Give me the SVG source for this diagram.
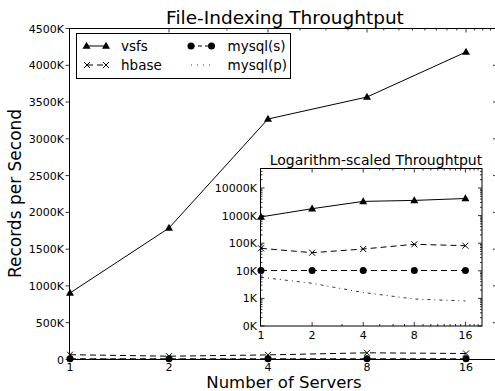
<svg xmlns="http://www.w3.org/2000/svg" width="495" height="391" viewBox="0 0 495 391">
<style>
text{font-family:"DejaVu Sans","Liberation Sans",sans-serif;fill:#000}
.tick{font-size:11px}
.ax{fill:none;stroke:#000;stroke-width:1}
.tk{fill:none;stroke:#000;stroke-width:0.8}
.l{fill:none;stroke:#000;stroke-width:1}
.dash{stroke-dasharray:6,4}
.dd{stroke-dasharray:3,4,1,4;stroke-width:0.8}
.tri{marker-start:url(#mt);marker-mid:url(#mt);marker-end:url(#mt)}
.xm{marker-start:url(#mx);marker-mid:url(#mx);marker-end:url(#mx)}
.ci{marker-start:url(#mc);marker-mid:url(#mc);marker-end:url(#mc)}
</style>
<defs>
<marker id="mt" markerUnits="userSpaceOnUse" markerWidth="10" markerHeight="10" refX="5" refY="5" overflow="visible"><path d="M5,0.8 L9,7.8 L1,7.8 Z" fill="#000"/></marker>
<marker id="mx" markerUnits="userSpaceOnUse" markerWidth="10" markerHeight="10" refX="5" refY="5" overflow="visible"><path d="M2,2 L8,8 M8,2 L2,8" stroke="#000" stroke-width="1" fill="none" stroke-dasharray="none"/></marker>
<marker id="mc" markerUnits="userSpaceOnUse" markerWidth="10" markerHeight="10" refX="5" refY="5" overflow="visible"><circle cx="5" cy="5" r="3.5" fill="#000"/></marker>
</defs>
<rect width="495" height="391" fill="#fff"/>

<g id="main-axes">
<path class="ax" d="M69.5,28.5 H497 M69.5,28 V360 M69.5,359.5 H497"/>
<path class="tk" d="M65.5,359.5h4 M65.5,322.7h4 M65.5,285.9h4 M65.5,249.2h4 M65.5,212.4h4 M65.5,175.6h4 M65.5,138.8h4 M65.5,102h4 M65.5,65.3h4 M65.5,28.5h4"/>
<path class="tk" d="M493,322.7h4 M493,285.9h4 M493,249.2h4 M493,212.4h4 M493,175.6h4 M493,138.8h4 M493,102h4 M493,65.3h4"/>
<path class="tk" d="M169,28.5v4 M268,28.5v4 M367,28.5v4 M466,28.5v4 M226.9,28.5v2 M299.9,28.5v2 M325.9,28.5v2 M347.9,28.5v2 M383.8,28.5v2 M398.9,28.5v2 M412.5,28.5v2 M424.9,28.5v2 M436.3,28.5v2 M446.9,28.5v2 M456.8,28.5v2 M474.6,28.5v2 M482.8,28.5v2 M490.5,28.5v2"/>
<path class="tk" d="M169,359.5v-4 M268,359.5v-4 M367,359.5v-4 M466,359.5v-4"/>
<g class="tick" text-anchor="end">
<text x="64" y="363.5">0</text>
<text x="64" y="326.7">500K</text>
<text x="64" y="289.9">1000K</text>
<text x="64" y="253.2">1500K</text>
<text x="64" y="216.4">2000K</text>
<text x="64" y="179.6">2500K</text>
<text x="64" y="142.8">3000K</text>
<text x="64" y="106">3500K</text>
<text x="64" y="69.3">4000K</text>
<text x="64" y="32.5">4500K</text>
</g>
<g class="tick" text-anchor="middle">
<text x="70" y="370.5">1</text>
<text x="169" y="370.5">2</text>
<text x="268" y="370.5">4</text>
<text x="367" y="370.5">8</text>
<text x="466" y="370.5">16</text>
</g>
<text x="285" y="23.5" font-size="18.5" text-anchor="middle">File-Indexing Throughtput</text>
<text x="284" y="387.5" font-size="16.5" text-anchor="middle">Number of Servers</text>
<text transform="translate(20.5,193.5) rotate(-90)" font-size="17" text-anchor="middle">Records per Second</text>
</g>

<g id="main-connectors">
<polyline class="l dd" points="70,359.1 169,359.2 268,359.3 367,359.4 466,359.4"/>
<polyline class="l dash ci" points="70,358.8 169,358.8 268,358.8 367,358.8 466,358.8"/>
<polyline class="l dash xm" points="70,354.7 169,356.2 268,354.9 367,352.8 466,353.5"/>
<polyline class="l tri" points="70,293 169,228 268,119 367,97 466,52"/>
</g>

<g id="legend">
<rect x="76.5" y="33.5" width="214" height="45" fill="#fff" stroke="#000" stroke-width="1"/>
<polyline class="l tri" points="86.5,46 106,46"/>
<polyline class="l dash xm" points="87,65 106,65"/>
<polyline class="l dash ci" points="191,46 211.5,46" style="stroke-dasharray:4,3"/>
<polyline class="l dd" points="191,65 211.5,65" style="stroke-dasharray:1,5"/>
<g font-size="13.5">
<text x="121" y="50.7">vsfs</text>
<text x="121" y="69.7">hbase</text>
<text x="227.5" y="50.7">mysql(s)</text>
<text x="227.5" y="69.7">mysql(p)</text>
</g>
</g>

<g id="inset">
<rect x="260.5" y="168.5" width="221.5" height="157.5" fill="#fff" stroke="#000" stroke-width="1"/>
<path class="tk" d="M260.5,326h4 M260.5,298.4h4 M260.5,270.8h4 M260.5,243.2h4 M260.5,215.6h4 M260.5,188h4 M482,326h-4 M482,298.4h-4 M482,270.8h-4 M482,243.2h-4 M482,215.6h-4 M482,188h-4"/>
<path class="tk" d="M260.5,317.7h2 M260.5,312.8h2 M260.5,309.4h2 M260.5,306.7h2 M260.5,304.5h2 M260.5,302.7h2 M260.5,301.1h2 M260.5,299.7h2 M260.5,290.1h2 M260.5,285.2h2 M260.5,281.8h2 M260.5,279.1h2 M260.5,276.9h2 M260.5,275.1h2 M260.5,273.5h2 M260.5,272.1h2 M260.5,262.5h2 M260.5,257.6h2 M260.5,254.2h2 M260.5,251.5h2 M260.5,249.3h2 M260.5,247.5h2 M260.5,245.9h2 M260.5,244.5h2 M260.5,234.9h2 M260.5,230h2 M260.5,226.6h2 M260.5,223.9h2 M260.5,221.7h2 M260.5,219.9h2 M260.5,218.3h2 M260.5,216.9h2 M260.5,207.3h2 M260.5,202.4h2 M260.5,199h2 M260.5,196.3h2 M260.5,194.1h2 M260.5,192.3h2 M260.5,190.7h2 M260.5,189.3h2 M260.5,179.7h2 M260.5,174.8h2 M260.5,171.4h2"/>
<path class="tk" d="M482,317.7h-2 M482,312.8h-2 M482,309.4h-2 M482,306.7h-2 M482,304.5h-2 M482,302.7h-2 M482,301.1h-2 M482,299.7h-2 M482,290.1h-2 M482,285.2h-2 M482,281.8h-2 M482,279.1h-2 M482,276.9h-2 M482,275.1h-2 M482,273.5h-2 M482,272.1h-2 M482,262.5h-2 M482,257.6h-2 M482,254.2h-2 M482,251.5h-2 M482,249.3h-2 M482,247.5h-2 M482,245.9h-2 M482,244.5h-2 M482,234.9h-2 M482,230h-2 M482,226.6h-2 M482,223.9h-2 M482,221.7h-2 M482,219.9h-2 M482,218.3h-2 M482,216.9h-2 M482,207.3h-2 M482,202.4h-2 M482,199h-2 M482,196.3h-2 M482,194.1h-2 M482,192.3h-2 M482,190.7h-2 M482,189.3h-2 M482,179.7h-2 M482,174.8h-2 M482,171.4h-2"/>
<path class="tk" d="M312.1,326v-4 M363.2,326v-4 M414.3,326v-4 M465.4,326v-4 M312.1,168.5v4 M363.2,168.5v4 M414.3,168.5v4 M465.4,168.5v4"/>
<path class="tk" d="M342,326v-2 M379.7,326v-2 M393.1,326v-2 M404.5,326v-2 M423,326v-2 M430.8,326v-2 M437.8,326v-2 M444.2,326v-2 M450.1,326v-2 M455.5,326v-2 M460.6,326v-2 M469.9,326v-2 M474.1,326v-2 M478.1,326v-2 M342,168.5v2 M379.7,168.5v2 M393.1,168.5v2 M404.5,168.5v2 M423,168.5v2 M430.8,168.5v2 M437.8,168.5v2 M444.2,168.5v2 M450.1,168.5v2 M455.5,168.5v2 M460.6,168.5v2 M469.9,168.5v2 M474.1,168.5v2 M478.1,168.5v2"/>
<g class="tick" text-anchor="end">
<text x="257" y="330">0K</text>
<text x="257" y="302.4">1K</text>
<text x="257" y="274.8">10K</text>
<text x="257" y="247.2">100K</text>
<text x="257" y="219.6">1000K</text>
<text x="257" y="192">10000K</text>
</g>
<g class="tick" text-anchor="middle">
<text x="261" y="338.5">1</text>
<text x="312.1" y="338.5">2</text>
<text x="363.2" y="338.5">4</text>
<text x="414.3" y="338.5">8</text>
<text x="465.4" y="338.5">16</text>
</g>
<text x="376" y="165" font-size="14" text-anchor="middle">Logarithm-scaled Throughtput</text>
</g>

<g id="inset-connectors">
<polyline class="l dd" points="261,277.3 312.1,283.3 363.2,292.5 414.3,299 465.4,301"/>
<polyline class="l dash ci" points="261,270.5 312.1,270.5 363.2,270.5 414.3,270.5 465.4,270.5"/>
<polyline class="l dash xm" points="261,248.3 312.1,252.7 363.2,249 414.3,244.3 465.4,245.7"/>
<polyline class="l tri" points="261,216.9 312.1,208.7 363.2,201.4 414.3,200.4 465.4,198.5"/>
</g>
</svg>
